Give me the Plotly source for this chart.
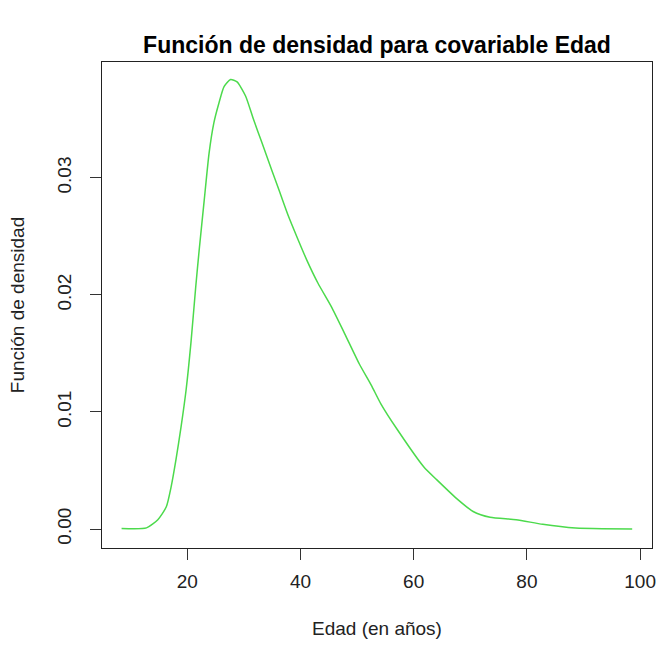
import plotly.graph_objects as go

edad = [8.4, 12.8, 14.8, 16.3, 17.15, 18.0, 18.9, 19.8, 20.65, 21.5, 22.1, 23.0, 23.85,
        24.7, 25.6, 26.5, 27.65, 28.8, 30.3, 31.7, 33.2, 34.9, 36.4, 37.9, 39.6, 41.1,
        43.1, 45.45, 47.8, 50.4, 52.5, 54.2, 57.1, 61.8, 64.1, 67.6, 70.5, 73.5, 78.1,
        82.8, 88.6, 93.3, 98.6]
densidad = [0.00005, 0.0001, 0.0008, 0.0019, 0.0036, 0.0059, 0.0087, 0.0119, 0.0159,
            0.0207, 0.0238, 0.0281, 0.0321, 0.0347, 0.0364, 0.0378, 0.0384, 0.0382,
            0.0370, 0.0350, 0.0330, 0.0307, 0.0287, 0.0267, 0.0247, 0.0230, 0.0210,
            0.0190, 0.0167, 0.0141, 0.0123, 0.0107, 0.0085, 0.0053, 0.0042, 0.0026,
            0.0015, 0.0010, 0.0008, 0.0004, 0.00008, 0.00002, 0.00001]
x_ticks = [20, 40, 60, 80, 100]
y_ticks = [0.00, 0.01, 0.02, 0.03]
y_tick_labels = ["0.00", "0.01", "0.02", "0.03"]

FONT = "Liberation Sans, Arial, sans-serif"

fig = go.Figure()
fig.add_trace(go.Scatter(x=edad, y=densidad, mode="lines",
                         line=dict(color="#4CDA4C", width=1.5, shape="spline", smoothing=0.6),
                         showlegend=False, hoverinfo="skip"))

fig.update_layout(
    width=663, height=645,
    margin=dict(l=102, r=7, t=62, b=97),
    paper_bgcolor="white", plot_bgcolor="white",
    font=dict(family=FONT, size=19, color="#222222"),
    title=dict(text="<b>Función de densidad para covariable Edad</b>",
               x=0.5, xref="paper", xanchor="center",
               y=1 - 45 / 645, yanchor="middle",
               font=dict(family=FONT, size=23, color="black")),
    xaxis=dict(range=[4.94, 102.1], tickvals=x_ticks, ticks="outside", ticklen=11,
               tickcolor="#333333", showline=True, mirror=True, linecolor="#222222",
               linewidth=1, showgrid=False, zeroline=False,
               tickfont=dict(size=19), ticklabelstandoff=5,
               title=dict(text="Edad (en años)", standoff=30, font=dict(size=19))),
    yaxis=dict(range=[-0.00162, 0.0399], tickvals=y_ticks, ticktext=y_tick_labels,
               ticks="outside", ticklen=11, tickcolor="#333333", tickangle=-90,
               showline=True, mirror=True, linecolor="#222222", linewidth=1,
               showgrid=False, zeroline=False, tickfont=dict(size=19),
               ticklabelstandoff=11,
               title=dict(text="Función de densidad", standoff=24, font=dict(size=19))),
)

fig.write_html("out.html")
